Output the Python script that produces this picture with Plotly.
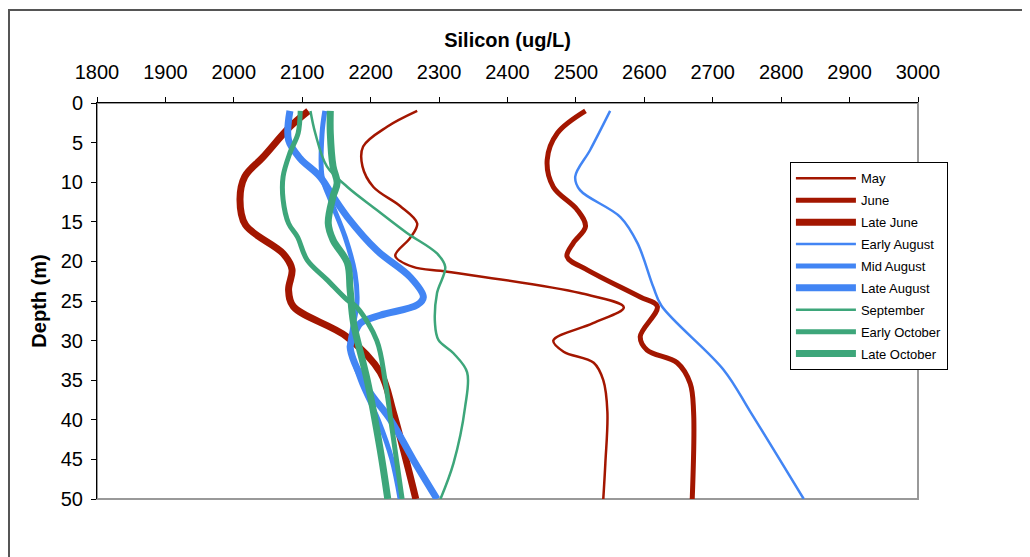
import plotly.graph_objects as go

# Silicon (ug/L) against depth (m)
may_si = [2268, 2224, 2189, 2188, 2204, 2243, 2268, 2258, 2236, 2262, 2312, 2506, 2570, 2525, 2467, 2482, 2526, 2540, 2546, 2543, 2540]
may_depth = [1, 3, 5.5, 8, 10.6, 13, 15.2, 17, 19.3, 20.7, 21.3, 24, 25.8, 27.8, 30, 31.4, 32.8, 35, 39, 45.5, 50]

june_si = [2514, 2473, 2458, 2467, 2502, 2514, 2496, 2487, 2517, 2594, 2619, 2594, 2604, 2648, 2667, 2672, 2670]
june_depth = [1, 3.8, 7.2, 10.6, 13.5, 15.6, 17.7, 19.4, 21.1, 24.5, 25.7, 29.5, 31.2, 32.8, 35.4, 39, 50]

late_june_si = [2109, 2082, 2043, 2016, 2009, 2017, 2072, 2085, 2080, 2087, 2165, 2214, 2233, 2253, 2266]
late_june_depth = [1, 3, 6.8, 9.3, 12.2, 15.4, 19, 21, 23.6, 25.7, 29.5, 34, 39, 45.5, 50]

early_aug_si = [2550, 2521, 2499, 2506, 2565, 2590, 2613, 2625, 2716, 2755, 2833]
early_aug_depth = [1, 5.9, 9.3, 11, 14.4, 17.7, 23.2, 25.6, 33.7, 39, 50]

mid_aug_si = [2133, 2129, 2129, 2141, 2163, 2177, 2180, 2173, 2170, 2185, 2211, 2231, 2243]
mid_aug_depth = [1, 3.8, 9.3, 12.2, 17, 21.5, 25.2, 28.7, 30.5, 35, 40, 45, 50]

late_aug_si = [2082, 2080, 2097, 2126, 2145, 2166, 2209, 2258, 2277, 2268, 2214, 2185, 2175, 2170, 2195, 2229, 2262, 2297]
late_aug_depth = [1, 4.7, 7, 9.3, 11.8, 14.4, 18.6, 22, 24.5, 25.5, 26.8, 27.8, 29.5, 30.8, 36, 40, 45, 50]

sept_si = [2112, 2119, 2136, 2166, 2209, 2253, 2297, 2309, 2297, 2294, 2299, 2321, 2341, 2338, 2321, 2302]
sept_depth = [1, 3.8, 8, 10.6, 13.5, 16.4, 19, 20.7, 24, 27.8, 29.9, 31.6, 34, 38.4, 45.5, 50]

early_oct_si = [2097, 2094, 2082, 2072, 2072, 2080, 2093, 2107, 2136, 2166, 2180, 2209, 2221, 2231, 2246]
early_oct_depth = [1, 3.8, 6.3, 9.3, 12.2, 15.2, 16.9, 19.8, 22.3, 24.9, 25.8, 30, 35, 41, 50]

late_oct_si = [2141, 2141, 2145, 2151, 2145, 2138, 2145, 2166, 2170, 2175, 2195, 2214, 2225]
late_oct_depth = [1, 3.8, 8, 10.1, 11.8, 15.2, 17.3, 20.2, 23.6, 27.8, 35, 43.8, 50]

RED = "#A31600"
BLUE = "#4285F4"
GREEN = "#3DA67A"

series = [
    ("May", may_si, may_depth, RED, 2.5),
    ("June", june_si, june_depth, RED, 5),
    ("Late June", late_june_si, late_june_depth, RED, 7),
    ("Early August", early_aug_si, early_aug_depth, BLUE, 2.5),
    ("Mid August", mid_aug_si, mid_aug_depth, BLUE, 5),
    ("Late August", late_aug_si, late_aug_depth, BLUE, 7),
    ("September", sept_si, sept_depth, GREEN, 2.5),
    ("Early October", early_oct_si, early_oct_depth, GREEN, 5),
    ("Late October", late_oct_si, late_oct_depth, GREEN, 7),
]

fig = go.Figure()
for i, (name, si, depth, color, width) in enumerate(series):
    fig.add_trace(go.Scatter(
        x=si,
        y=depth,
        name=name,
        mode="lines",
        line=dict(color=color, width=width, shape="spline", smoothing=1),
        legendgroup=str(i),
    ))

font = "Arial, 'Liberation Sans', sans-serif"

fig.update_xaxes(
    side="top",
    range=[1800, 3000],
    dtick=100,
    automargin=False,
    showgrid=False,
    zeroline=False,
    showline=True,
    linecolor="black",
    linewidth=1,
    ticks="outside",
    ticklen=5,
    tickcolor="black",
    ticklabelstandoff=10,
    tickfont=dict(size=20, color="black"),
    title=dict(text="<b>Silicon (ug/L)</b>", font=dict(size=20, color="black"), standoff=8),
)
fig.update_yaxes(
    range=[50, 0],
    dtick=5,
    automargin=False,
    showgrid=False,
    zeroline=False,
    showline=True,
    linecolor="black",
    linewidth=1,
    ticks="outside",
    ticklen=5,
    tickcolor="black",
    ticklabelstandoff=4,
    tickfont=dict(size=20, color="black"),
    title=dict(text="<b>Depth (m)</b>", font=dict(size=20, color="black"), standoff=8),
)

# grey plot-area frame and the outer chart border
fig.add_shape(type="rect", xref="paper", yref="paper", x0=0, x1=1, y0=0, y1=1,
              line=dict(color="#999999", width=2), layer="below")
fig.add_shape(type="rect", xref="paper", yref="paper", x0=-0.1072, x1=1.1315, y0=-0.2, y1=1.235,
              line=dict(color="#555555", width=2), layer="below")

# the page adds an 8px body margin, so the figure is a little smaller than the window
fig.update_layout(
    width=1022,
    height=549,
    margin=dict(l=89, r=112, t=95, b=58),
    paper_bgcolor="white",
    plot_bgcolor="white",
    font=dict(family=font, color="black"),
    showlegend=True,
    legend=dict(
        x=0.844, y=0.85, xanchor="left", yanchor="top",
        bgcolor="white",
        bordercolor="black",
        borderwidth=1,
        font=dict(size=13, color="black"),
        tracegroupgap=2,
        itemwidth=60,
    ),
)

fig.write_html("out.html")
